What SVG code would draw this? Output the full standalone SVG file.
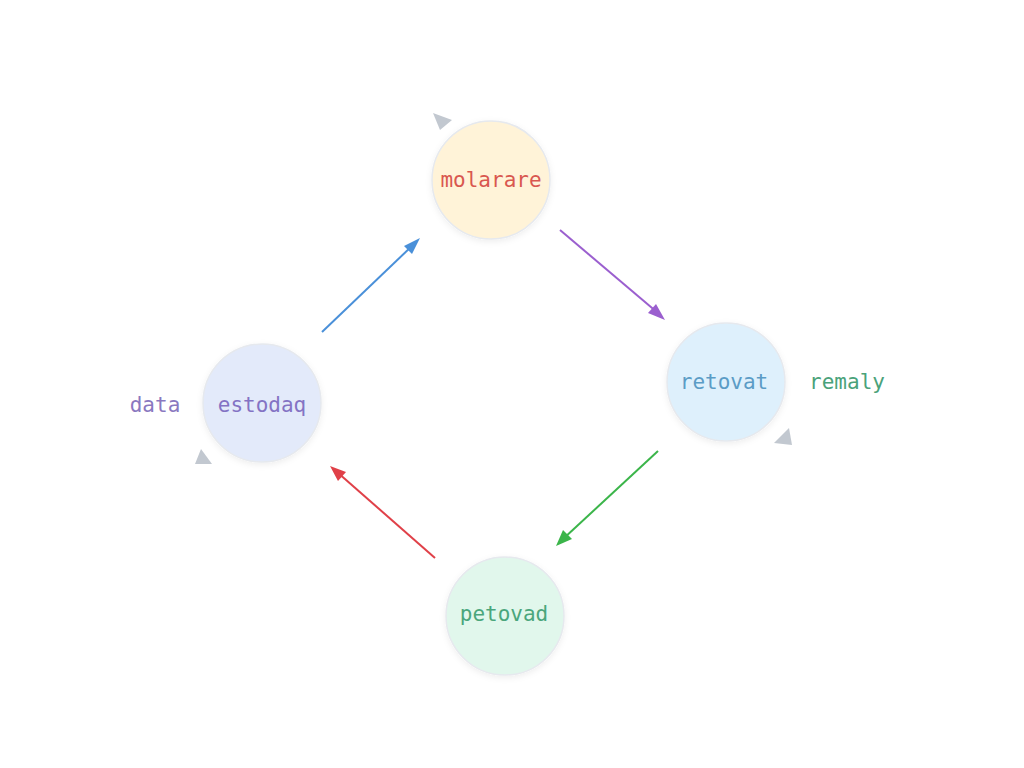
<svg xmlns="http://www.w3.org/2000/svg" width="1024" height="768" viewBox="0 0 1024 768">
<defs>
<style>
.node{stroke:#e6e9ee;stroke-width:1.5}
.lbl{font-family:"DejaVu Sans Mono","Liberation Mono",monospace;font-size:21px;text-anchor:middle;dominant-baseline:central}
.edge{stroke-width:2;fill:none}
.ghost{fill:#c2c8d0}
</style>
<filter id="sh" x="-30%" y="-30%" width="160%" height="160%">
<feDropShadow dx="0" dy="2" stdDeviation="3" flood-color="#000" flood-opacity="0.07"/>
</filter>
</defs>
<rect width="1024" height="768" fill="#ffffff"/>
<g id="connectors">
<line class="edge" x1="322" y1="332" x2="413" y2="245" stroke="#4a90d9"/>
<path d="M420,238 L404,246 L412,254 Z" fill="#4a90d9"/>
<line class="edge" x1="560" y1="230" x2="658" y2="313" stroke="#9b5fcf"/>
<path d="M665,320 L648,313 L656,304 Z" fill="#9b5fcf"/>
<line class="edge" x1="658" y1="451" x2="563" y2="539" stroke="#3bb54a"/>
<path d="M556,546 L563,530 L572,539 Z" fill="#3bb54a"/>
<line class="edge" x1="435" y1="558" x2="337" y2="472" stroke="#e04048"/>
<path d="M330,466 L346,472 L338,481 Z" fill="#e04048"/>
<polygon class="ghost" points="433,113 452,120 440,130"/>
<polygon class="ghost" points="201,449 195,464 212,464"/>
<polygon class="ghost" points="789,428 774,443 792,445"/>
</g>
<g id="node-molarare">
<circle class="node" cx="491" cy="180" r="59" fill="#fff3d8" filter="url(#sh)"/>
<text class="lbl" x="491" y="180" fill="#d9574f">molarare</text>
</g>
<g id="node-estodaq">
<circle class="node" cx="262" cy="403" r="59" fill="#e3eafa" filter="url(#sh)"/>
<text class="lbl" x="262" y="405" fill="#8473c4">estodaq</text>
</g>
<g id="node-retovat">
<circle class="node" cx="726" cy="382" r="59" fill="#def0fc" filter="url(#sh)"/>
<text class="lbl" x="724" y="382" fill="#5b9cc6">retovat</text>
</g>
<g id="node-petovad">
<circle class="node" cx="505" cy="616" r="59" fill="#e1f7ec" filter="url(#sh)"/>
<text class="lbl" x="504" y="614" fill="#4aa67c">petovad</text>
</g>
<g id="labels">
<text class="lbl" x="155" y="405" fill="#8a78c0">data</text>
<text class="lbl" x="847" y="382" fill="#4aa27a">remaly</text>
</g>
</svg>
